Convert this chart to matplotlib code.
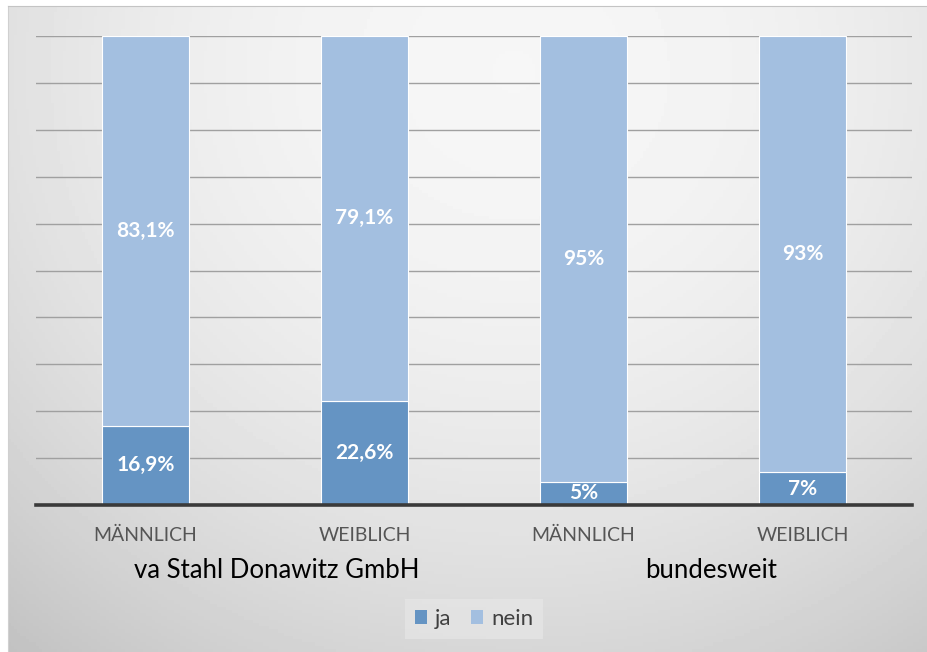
import numpy as np
import matplotlib.pyplot as plt
from matplotlib.patches import Patch

plt.rcParams['font.family'] = ['Lato', 'DejaVu Sans']

# Daten
categories = ['MÄNNLICH', 'WEIBLICH', 'MÄNNLICH', 'WEIBLICH']
groups = ['va Stahl Donawitz GmbH', 'bundesweit']
ja = [16.9, 22.6, 5, 7]
nein = [83.1, 79.1, 95, 93]

C_JA = '#6594c3'
C_NEIN = '#a3bfe0'

fig = plt.figure(figsize=(9.28, 6.52), dpi=100)

# Hintergrund mit Verlauf
bg = fig.add_axes([8/928, 0, 920/928, 646/652], zorder=-10)
yy, xx = np.mgrid[0:1:200j, 0:1:300j]
r2 = ((xx - 0.55) / 0.85) ** 2 + ((yy - 0.1) / 1.15) ** 2
grad = np.clip(0.965 - 0.2 * r2, 0.76, 1.0)
bg.imshow(grad, cmap='gray', vmin=0, vmax=1, aspect='auto', extent=[0, 1, 0, 1], origin='upper')
bg.set_xlim(0, 1)
bg.set_ylim(0, 1)
bg.set_xticks([])
bg.set_yticks([])
for s in bg.spines.values():
    s.set_visible(False)
bg.spines['top'].set_visible(True)
bg.spines['left'].set_visible(True)
bg.spines['top'].set_color('#c4c4c4')
bg.spines['left'].set_color('#d0d0d0')

ax = fig.add_axes([36/928, 147/652, 876/928, 469/652])
ax.set_facecolor('none')

# 100%-gestapelt
tot = np.array(ja) + np.array(nein)
ja_p = np.array(ja) / tot * 100
nein_p = np.array(nein) / tot * 100
x = np.arange(len(categories))
w = 0.395
ax.bar(x, ja_p, w, color=C_JA, edgecolor='white', linewidth=0.8, zorder=3)
ax.bar(x, nein_p, w, bottom=ja_p, color=C_NEIN, edgecolor='white', linewidth=0.8, zorder=3)

def fmt(v):
    return f'{v:g}'.replace('.', ',') + '%'

for i in range(len(x)):
    ax.text(x[i], ja_p[i] / 2, fmt(ja[i]), ha='center', va='center', color='white',
            fontsize=15, fontweight='bold', zorder=4)
    ax.text(x[i], ja_p[i] + nein_p[i] / 2, fmt(nein[i]), ha='center', va='center',
            color='white', fontsize=15, fontweight='bold', zorder=4)

ax.set_xlim(-0.5, 3.5)
ax.set_ylim(0, 100)
ax.set_yticks(np.arange(10, 101, 10))
ax.yaxis.grid(True, color='#a0a0a0', linewidth=1.0, zorder=1)
ax.tick_params(left=False, labelleft=False, bottom=False)
ax.set_xticks(x)
ax.set_xticklabels(categories, fontsize=14, color='#555555')
ax.tick_params(axis='x', pad=12)
for s in ['top', 'right', 'left']:
    ax.spines[s].set_visible(False)
ax.spines['bottom'].set_color('#3a3a3a')
ax.spines['bottom'].set_linewidth(2.6)
ax.spines['bottom'].set_zorder(5)

# Gruppenbeschriftung
fig.text(277/928, 1 - 570/652, groups[0], ha='center', va='center', fontsize=18.5, color='black')
fig.text(711/928, 1 - 570/652, groups[1], ha='center', va='center', fontsize=18.5, color='black')

handles = [Patch(facecolor=C_JA, label='ja'), Patch(facecolor=C_NEIN, label='nein')]
leg = fig.legend(handles=handles, loc='center', bbox_to_anchor=(474/928, 1 - 619/652), ncol=2,
                 fontsize=16, frameon=True, handlelength=0.55, handleheight=0.55,
                 handletextpad=0.35, columnspacing=0.9, borderpad=0.45, fancybox=False)
leg.get_frame().set_facecolor('#e6e6e6')
leg.get_frame().set_edgecolor('none')
leg.get_frame().set_alpha(0.7)
for t in leg.get_texts():
    t.set_color('#404040')

fig.savefig('out.png', dpi=100)
